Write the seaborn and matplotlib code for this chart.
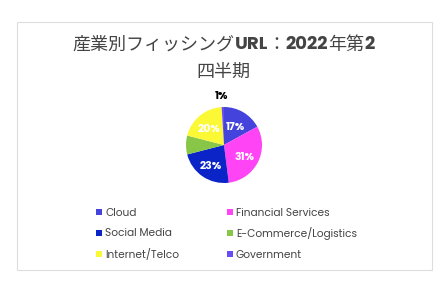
import matplotlib
matplotlib.use("Agg")

import matplotlib.pyplot as plt
from matplotlib.patches import Rectangle
import numpy as np
import seaborn as sns

CATEGORIES = ["Cloud", "Financial Services", "Social Media",
              "E-Commerce/Logistics", "Internet/Telco", "Government"]
SHARES = [17, 31, 23, 8, 20, 1]
COLORS = ["#4444dd", "#ff44f5", "#0a24c8", "#88c648", "#fbf835", "#6a4cf5"]
# title line 1 as (text, bold) pieces; line 2 plain
TITLE_PARTS = [("産業別フィッシング", False), ("URL", True), ("：", False),
               ("2022", True), ("年第", False), ("2", True)]
TITLE_LINE2 = "四半期"

sns.set_theme(style="white")
plt.rcParams["font.family"] = ["Noto Sans CJK JP", "DejaVu Sans"]
LATIN = ["Poppins", "Open Sans", "DejaVu Sans"]

W, H = 447, 282
fig = plt.figure(figsize=(W / 100, H / 100), dpi=100)
fig.patch.set_facecolor("white")

# card border
fig.add_artist(Rectangle((17 / W, 1 - 270 / H), 415 / W, 248 / H,
                         transform=fig.transFigure, fill=False,
                         edgecolor="#dddddd", lw=0.8))

# title, line 1 built from mixed-weight pieces
renderer = fig.canvas.get_renderer()
title_fs = 13
pieces = []
for txt, bold in TITLE_PARTS:
    t = fig.text(0, 1 - 45 / H, txt, ha="left", va="center", fontsize=title_fs,
                 color="#444444", fontweight="bold" if bold else "normal",
                 family=LATIN if bold else ["Noto Sans CJK JP"])
    pieces.append((t, t.get_window_extent(renderer).width))
total = sum(w for _, w in pieces)
x = (W - total) / 2
for t, w in pieces:
    t.set_x(x / W)
    x += w
fig.text(0.5, 1 - 72 / H, TITLE_LINE2, ha="center", va="center",
         fontsize=title_fs, color="#444444")

r = 38
ax = fig.add_axes([(224 - r) / W, 1 - (145 + r) / H, 2 * r / W, 2 * r / H])
wedges, _ = ax.pie(SHARES, colors=COLORS, startangle=90, counterclock=False,
                   wedgeprops=dict(linewidth=0))
ax.set_xlim(-1, 1)
ax.set_ylim(-1, 1)
ax.set_aspect("equal")

for w, v in zip(wedges, SHARES):
    ang = np.deg2rad((w.theta1 + w.theta2) / 2)
    if v < 5:
        ax.text(1.28 * np.cos(ang) - 0.04, 1.22 * np.sin(ang), f"{v}%",
                ha="center", va="baseline", fontsize=7.8, fontweight="bold",
                color="black", family=LATIN, clip_on=False)
    elif v >= 10:
        ax.text(0.6 * np.cos(ang), 0.6 * np.sin(ang) - 0.13, f"{v}%",
                ha="center", va="baseline", fontsize=7.8, fontweight="bold",
                color="white", family=LATIN)

# legend
cols_x = [97, 228]
rows_y = [212, 233, 254]
for i, (name, c) in enumerate(zip(CATEGORIES, COLORS)):
    x = cols_x[i % 2]
    y = rows_y[i // 2]
    fig.add_artist(Rectangle(((x - 1) / W, 1 - (y + 3) / H), 6 / W, 6 / H,
                             transform=fig.transFigure, color=c, lw=0))
    fig.text((x + 8) / W, 1 - (y + 3.5) / H, name, ha="left", va="baseline",
             fontsize=7.6, color="#444444", family=LATIN)

fig.savefig("out.png", dpi=100)
